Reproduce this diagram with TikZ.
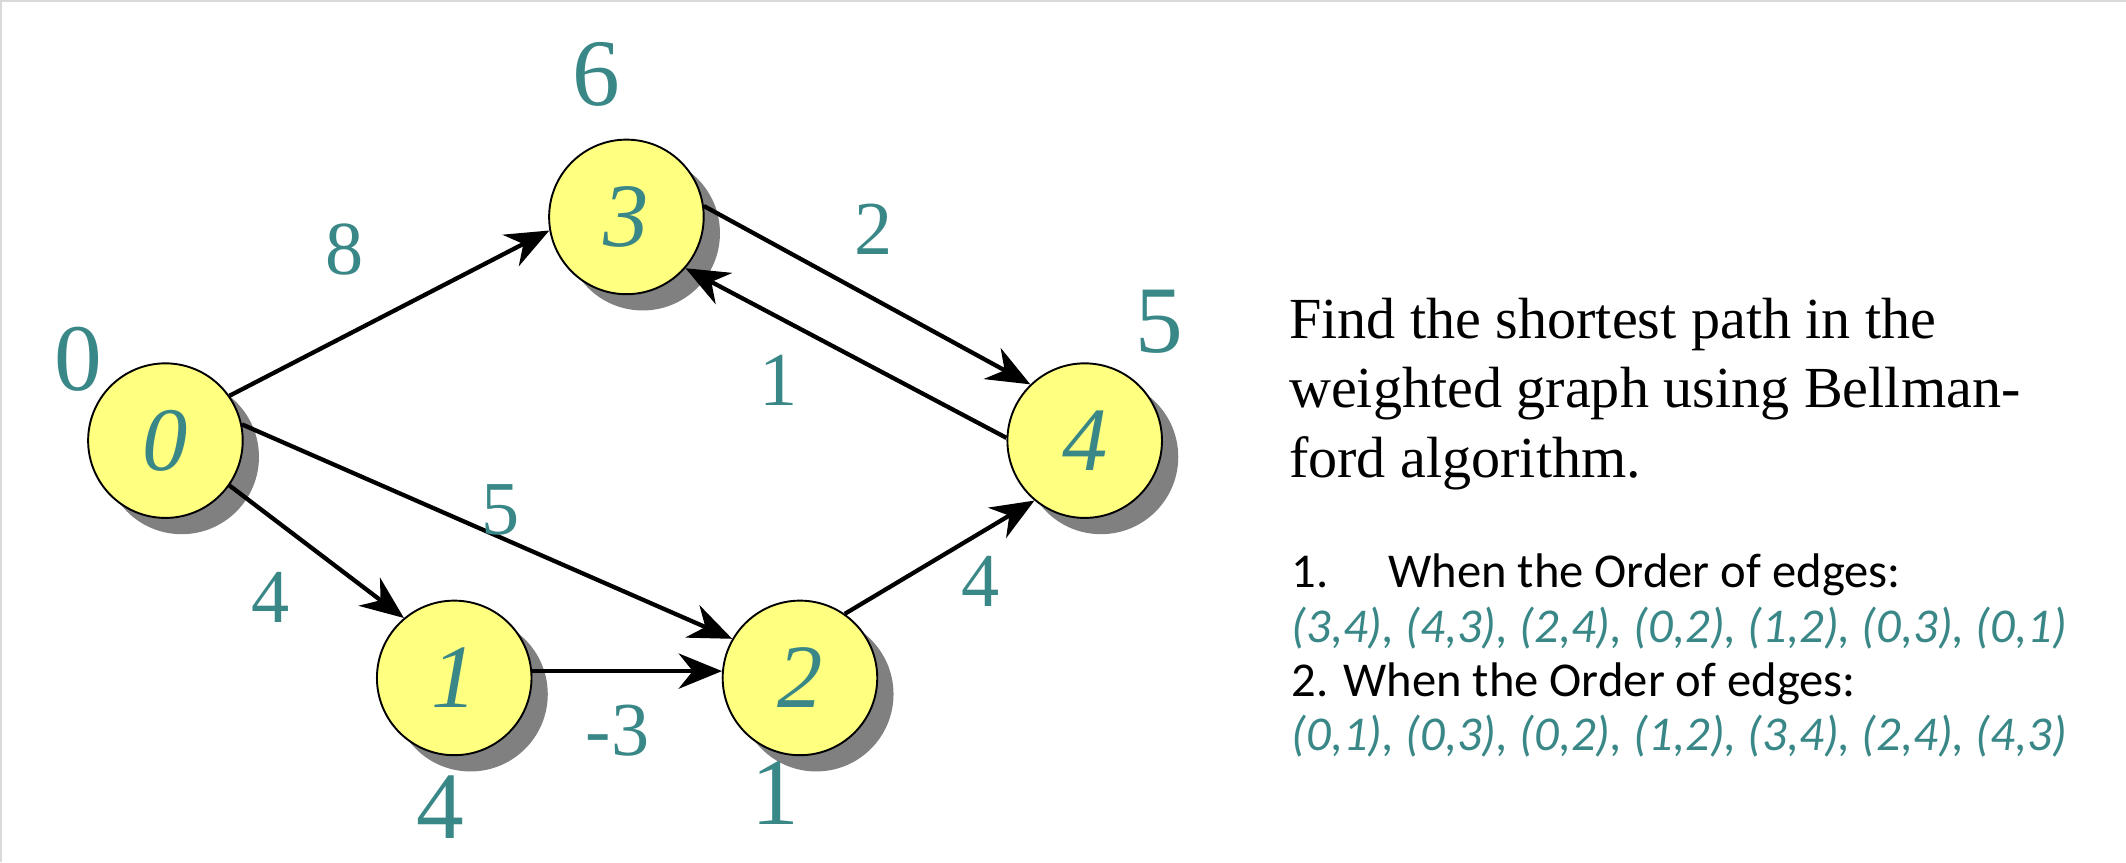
\documentclass[tikz,border=0pt]{standalone}
\usepackage{fontspec}
\setmainfont{Liberation Serif}
\newfontfamily\listfont{Carlito}
\usetikzlibrary{arrows.meta,shadows}
\definecolor{tealtxt}{RGB}{58,135,135}
\definecolor{nodeyellow}{RGB}{255,255,128}
\tikzset{
	vertex/.style = {draw, fill=nodeyellow, circle, minimum size=1.14cm, inner sep=0pt,
		drop shadow={shadow xshift=0.12cm, shadow yshift=-0.12cm, fill=gray, opacity=1},
		text=tealtxt, font=\fontsize{19}{19}\selectfont\itshape},
	weight/.style = {text=tealtxt, font=\fontsize{16}{16}\selectfont},
	dist/.style   = {text=tealtxt, font=\fontsize{20}{20}\selectfont},
	edge/.style   = {-{Stealth[length=3.2mm,width=2.6mm]}, line width=0.9pt},
}

\begin{document}
\begin{tikzpicture}
		\useasboundingbox (0,0) rectangle (15.68,6.36);
		\draw[gray!30, line width=1pt] (0,0) -- (0,6.36) -- (15.68,6.36);
		
		% Draw the vertices
		\node[vertex] (n0) at (1.22,3.11) {0};
		\node[vertex] (n3) at (4.62,4.76) {3};
		\node[vertex] (n4) at (8.00,3.11) {4};
		\node[vertex] (n1) at (3.35,1.36) {1};
		\node[vertex] (n2) at (5.90,1.36) {2};
		
		% Distances
		\node[dist] (d3) at (4.40,5.81) {6};
		\node[dist] (d4) at (8.55,3.99) {5};
		\node[dist] (d0) at (0.58,3.71) {0};
		\node[dist] (d1) at (3.25,0.41) {4};
		\node[dist] (d2) at (5.72,0.51) {1};
		
		% Connect everything together
		\draw[edge] (n0.35)  -- (n3.190) node[weight, pos=0.4, above left=2pt, xshift=2.5mm, yshift=2mm] {8};
		\draw[edge] (n3.8)   -- (n4.134) node[weight, pos=0.5, above right=2pt, xshift=-3mm, yshift=1mm] {2};
		\draw[edge] (n4.178) -- (n3.-41) node[weight, pos=0.65, below left=2pt, xshift=2mm] {1};
		\draw[edge] (n0.12)  -- (n2.150) node[weight, pos=0.5, above=4pt, xshift=1mm, yshift=-3mm] {5};
		\draw[edge] (n0.-35) -- (n1.130) node[weight, pos=0.3, below left=6pt, xshift=4mm] {4};
		\draw[edge] (n1.5)   -- (n2.175) node[weight, pos=0.45, below=9pt, yshift=2mm] {-3};
		\draw[edge] (n2.55)  -- (n4.-130) node[weight, pos=0.6, below right=4pt, xshift=-2.5mm, yshift=2mm] {4};
		
		% Task text
		\node[anchor=north west, align=left, inner sep=0pt, font=\fontsize{12.2}{14.6}\selectfont] (task) at (9.50,4.17)
		{Find the shortest path in the\\weighted graph using Bellman-\\ford algorithm.};
		\node[anchor=north west, align=left, inner sep=0pt, font=\listfont\fontsize{10.2}{11.4}\selectfont] (orders) at (9.52,2.28)
		{1.\quad\ When the Order of edges:\\
		 \textcolor{tealtxt}{\itshape (3,4), (4,3), (2,4), (0,2), (1,2), (0,3), (0,1)}\\
		 2. When the Order of edges:\\
		 \textcolor{tealtxt}{\itshape (0,1), (0,3), (0,2), (1,2), (3,4), (2,4), (4,3)}};
	\end{tikzpicture}
\end{document}
